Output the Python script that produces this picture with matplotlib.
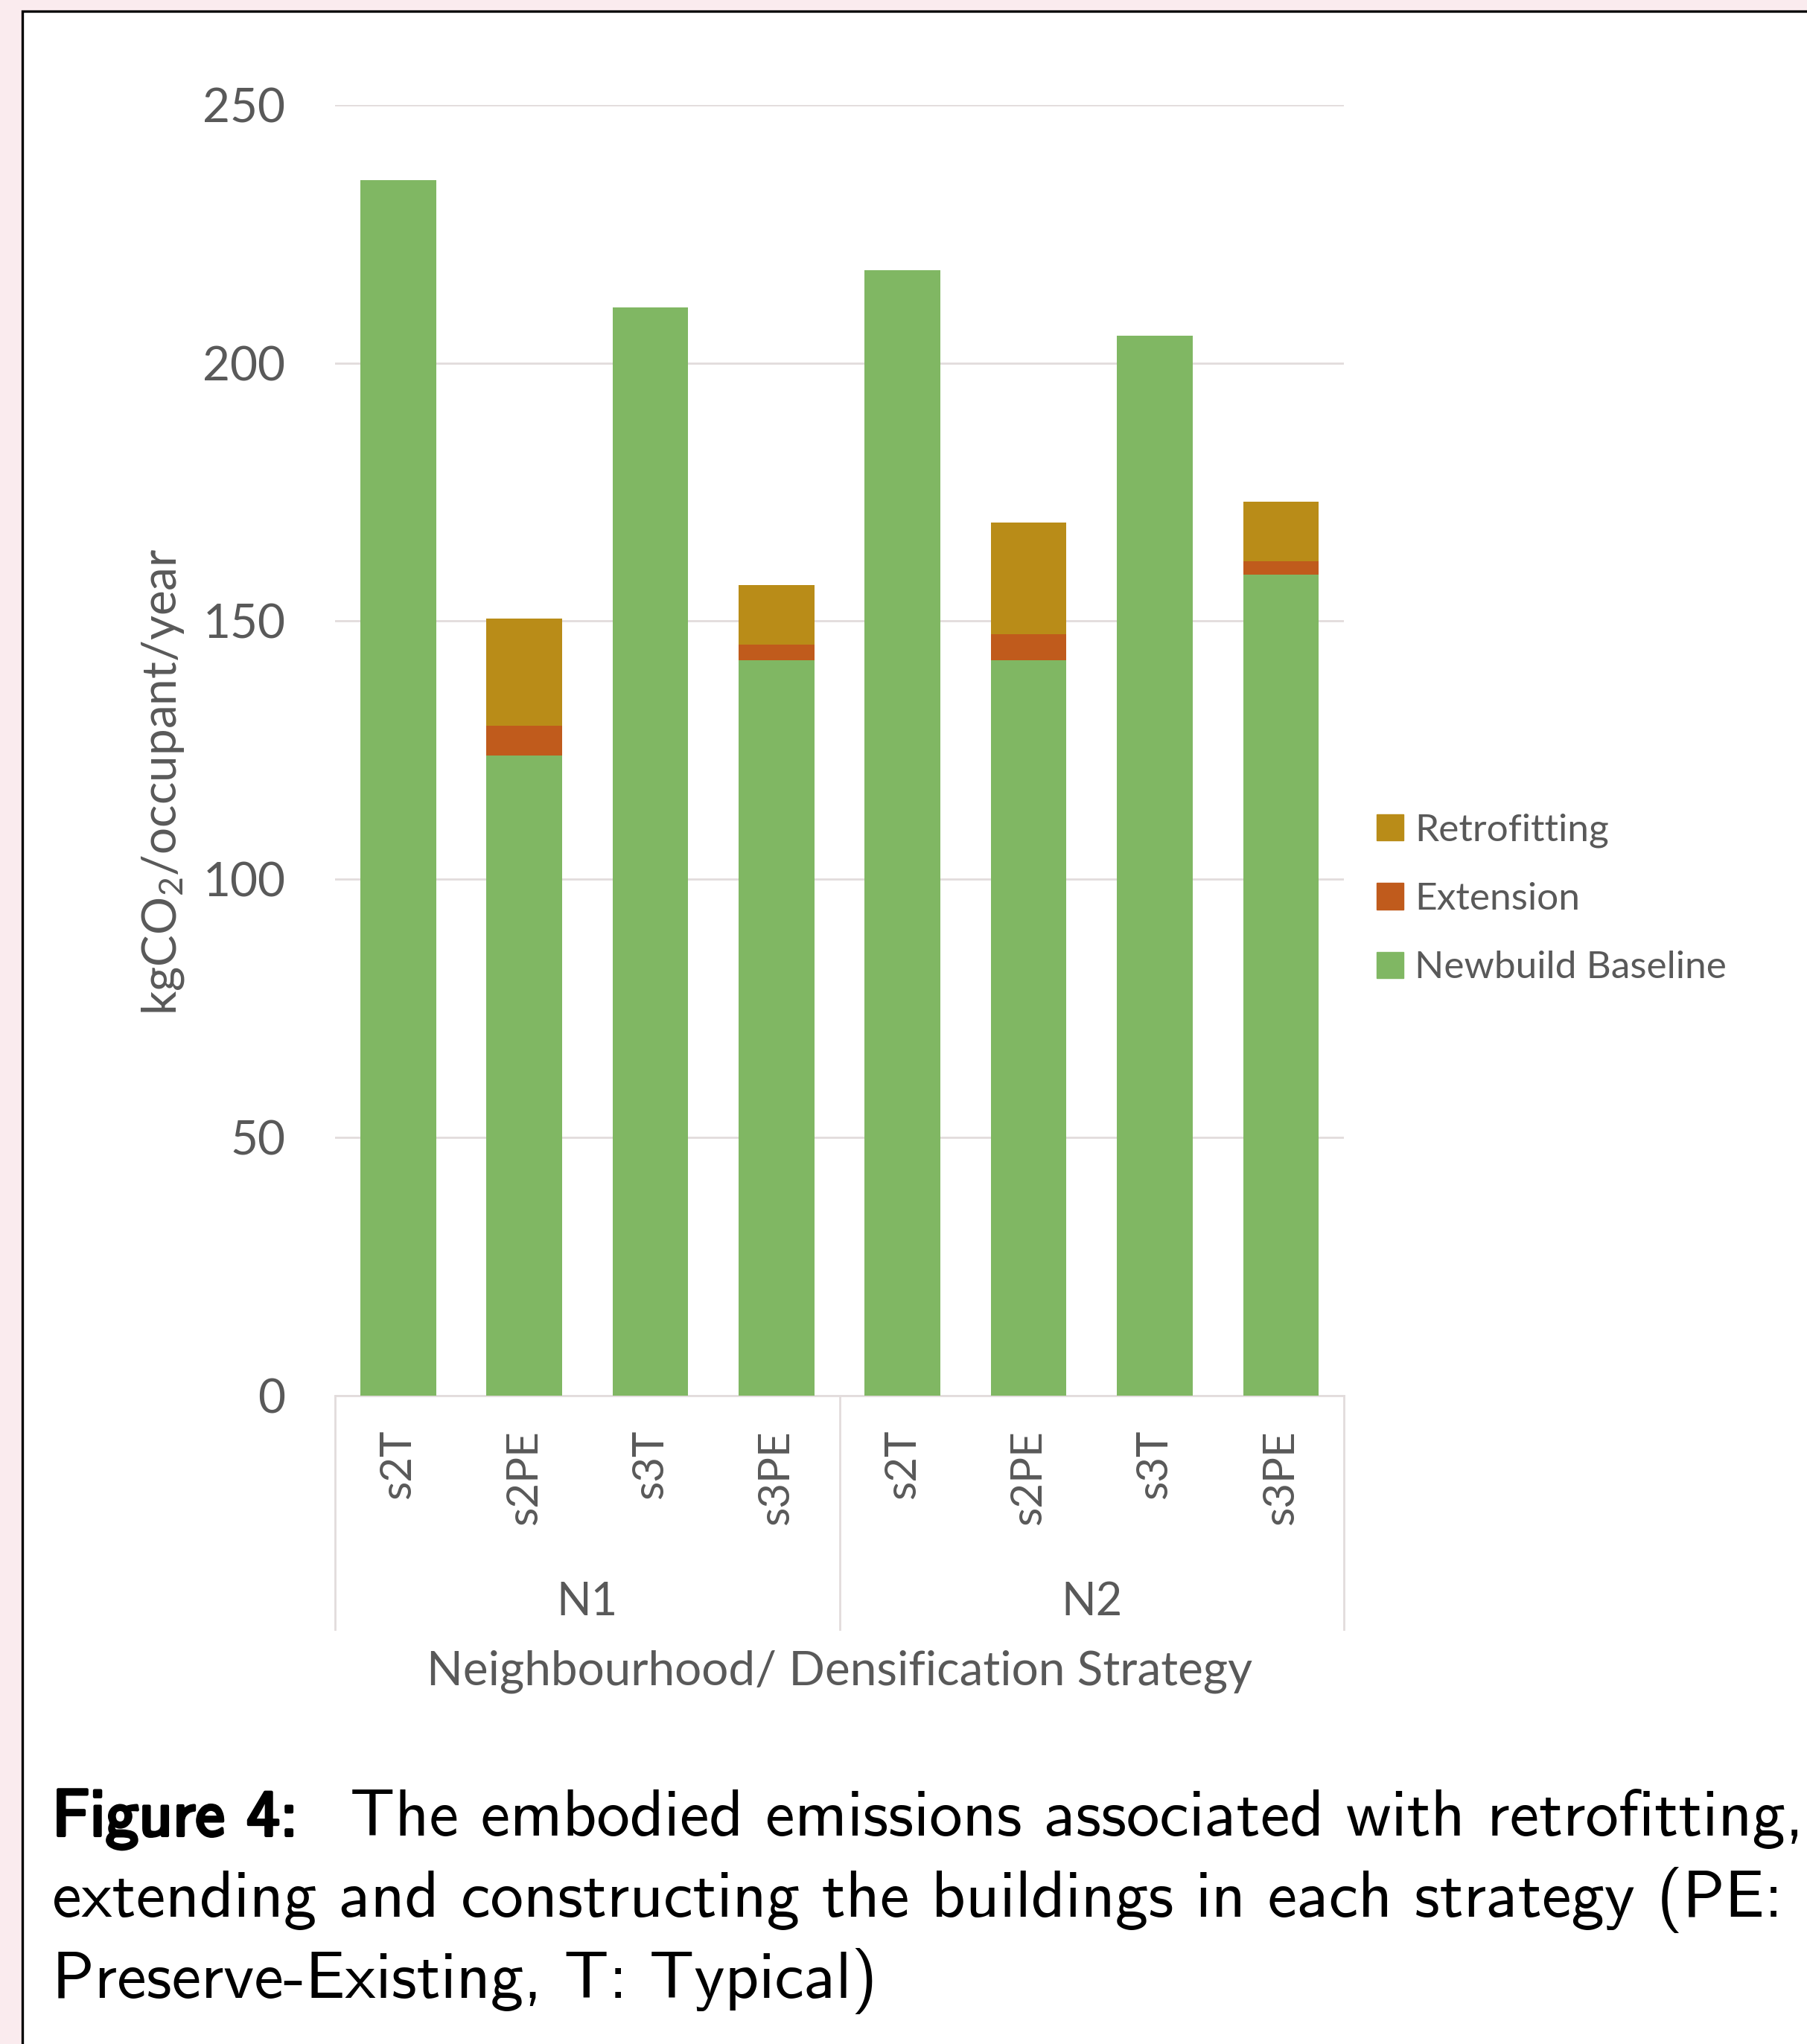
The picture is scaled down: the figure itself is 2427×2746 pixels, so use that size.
import numpy as np
import matplotlib
matplotlib.use("Agg")
import matplotlib.pyplot as plt
from matplotlib.patches import Rectangle, Patch
from matplotlib import patheffects

plt.rcParams['font.family'] = ['Lato', 'DejaVu Sans']
plt.rcParams['mathtext.fontset'] = 'custom'
plt.rcParams['mathtext.rm'] = 'Lato'
plt.rcParams['mathtext.it'] = 'Lato:italic'

# values read per strategy, kgCO2/occupant/year
neighbourhoods = ['N1', 'N2']
strategies = ['s2T', 's2PE', 's3T', 's3PE']
newbuild = [235.4, 124.0, 210.8, 142.4, 217.9, 142.4, 205.3, 159.0]
extension = [0, 5.7, 0, 3.1, 0, 5.0, 0, 2.6]
retrofitting = [0, 20.8, 0, 11.5, 0, 21.7, 0, 11.5]

c_new = '#80b763'
c_ext = '#c05b1c'
c_ret = '#b98c18'
txt = '#595959'
grid_c = '#e2dcdc'

W, H = 2427, 2746
fig = plt.figure(figsize=(W / 100, H / 100), dpi=100, facecolor='#faebee')

# white page with black frame line, kept behind the axes
fig.patches.append(Rectangle((30 / W, -0.01), 1.0, 1 - 15 / H + 0.01, transform=fig.transFigure,
                             facecolor='white', edgecolor='black', linewidth=2.4, zorder=-5))

ax = fig.add_axes([450 / W, 1 - 1875 / H, (1805 - 450) / W, (1875 - 140.7) / H])
ax.set_facecolor('none')

x = np.arange(len(newbuild))
labels = strategies * len(neighbourhoods)
new = np.array(newbuild)
ext = np.array(extension)
ret = np.array(retrofitting)

ax.bar(x, new, width=0.6, color=c_new, zorder=3)
ax.bar(x, ext, width=0.6, bottom=new, color=c_ext, zorder=3)
ax.bar(x, ret, width=0.6, bottom=new + ext, color=c_ret, zorder=3)

ax.set_xlim(-0.5, 7.5)
ax.set_ylim(0, 250)
ax.set_yticks(np.arange(0, 251, 50))
ax.yaxis.grid(True, color=grid_c, linewidth=2.0, zorder=0)
for s in ['top', 'right', 'left']:
    ax.spines[s].set_visible(False)
ax.spines['bottom'].set_color(grid_c)
ax.spines['bottom'].set_linewidth(2.0)
ax.tick_params(axis='y', length=0, pad=48, labelsize=46, labelcolor=txt)
ax.tick_params(axis='x', length=0, pad=33, labelsize=42, labelcolor=txt)
ax.set_xticks(x)
ax.set_xticklabels(labels, rotation=90, va='top', ha='center')

# neighbourhood group dividers and names
tr = ax.get_xaxis_transform()
for xv in [-0.5, 3.5, 7.5]:
    ax.plot([xv, xv], [0, -0.181], transform=tr, color=grid_c, linewidth=2.0, clip_on=False)
for i, n in enumerate(neighbourhoods):
    ax.text(1.5 + 4 * i, -0.160, n, transform=tr, ha='center', va='center', fontsize=44, color=txt)
ax.text(3.5, -0.214, 'Neighbourhood/ Densification Strategy', transform=tr,
        ha='center', va='center', fontsize=46, color=txt)

fig.text(219 / W, 1 - 1050 / H, r'kgCO$_{\mathrm{2}}$/occupant/year', rotation=90,
         ha='center', va='center', fontsize=46, color=txt)

handles = [Patch(color=c_ret, label='Retrofitting'),
           Patch(color=c_ext, label='Extension'),
           Patch(color=c_new, label='Newbuild Baseline')]
fig.legend(handles=handles, loc='center left', bbox_to_anchor=(1823 / W, 1 - 1208 / H),
           frameon=False, fontsize=37, labelcolor=txt, handlelength=0.7, handleheight=0.7,
           handletextpad=0.3, labelspacing=0.9, borderpad=0)

# caption
cap = dict(family='cmss10', fontsize=64, color='black', va='baseline')
bold = [patheffects.withStroke(linewidth=3.0, foreground='black')]
fig.text(70 / W, 1 - 2466 / H, 'Figure 4:', path_effects=bold, **cap)
fig.text(470 / W, 1 - 2466 / H, 'The embodied emissions associated with retrofitting,', **cap)
fig.text(70 / W, 1 - 2575 / H, 'extending and constructing the buildings in each strategy (PE:', **cap)
fig.text(70 / W, 1 - 2684 / H, 'Preserve-Existing, T: Typical)', **cap)

fig.savefig('out.png', dpi=100, facecolor=fig.get_facecolor())
